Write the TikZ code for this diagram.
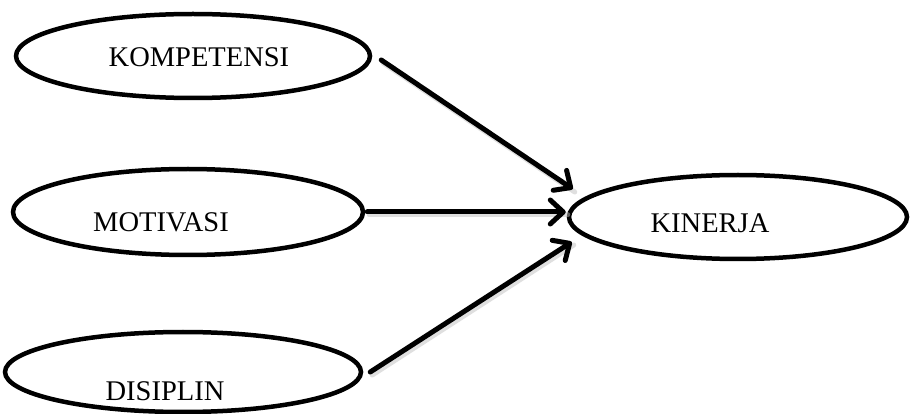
\documentclass[tikz,border=0pt]{standalone}
\usepackage{fontspec}
\setmainfont{Liberation Serif}
\usetikzlibrary{arrows.meta,shapes.geometric,calc}

\tikzset{
  var/.style={draw=black, line width=4.5pt, ellipse, inner sep=0pt, fill=white},
  lbl/.style={font=\fontsize{28.5}{30}\selectfont, anchor=base, inner sep=0pt},
  link/.style={line width=5pt, line cap=round, line join=round,
    -{Straight Barb[length=13pt, width=24pt, line cap=round, line join=round]}},
  shade/.style={line width=5pt, line cap=round, draw=black!25, opacity=0.5}
}

\begin{document}
\begin{tikzpicture}[x=1pt, y=-1pt]
  \useasboundingbox (0,0) rectangle (911,414);

  % variable ellipses
  \node[var, minimum width=354pt, minimum height=84pt] (komp) at (193,56) {};
  \node[var, minimum width=350pt, minimum height=86pt] (mot)  at (188,212) {};
  \node[var, minimum width=356pt, minimum height=80pt] (dis)  at (183,372) {};
  \node[var, minimum width=338pt, minimum height=84pt] (kin)  at (738,217) {};

  % labels
  \node[lbl] (tkomp) at (199,67)  {KOMPETENSI};
  \node[lbl] (tmot)  at (161,232) {MOTIVASI};
  \node[lbl] (tdis)  at (165,400) {DISIPLIN};
  \node[lbl] (tkin)  at (710,233) {KINERJA};

  % arrow end points
  \coordinate (s1) at ($(komp.east)+(9,4)$);
  \coordinate (s2) at ($(mot.east)+(2,0)$);
  \coordinate (s3) at ($(dis.east)+(7,0)$);
  \coordinate (e1) at ($(kin.west)+(6,-28)$);
  \coordinate (e2) at ($(kin.west |- mot.east)+(-1,0)$);
  \coordinate (e3) at ($(kin.west)+(5,25)$);

  % soft shadows under the arrows
  \draw[shade] ($(s1)+(2,3)$) -- ($(e1)+(2,3)$);
  \draw[shade] ($(s2)+(2,3)$) -- ($(e2)+(2,3)$);
  \draw[shade] ($(s3)+(2,3)$) -- ($(e3)+(2,3)$);

  % arrows
  \draw[link] (s1) -- (e1);
  \draw[link] (s2) -- (e2);
  \draw[link] (s3) -- (e3);
\end{tikzpicture}
\end{document}
